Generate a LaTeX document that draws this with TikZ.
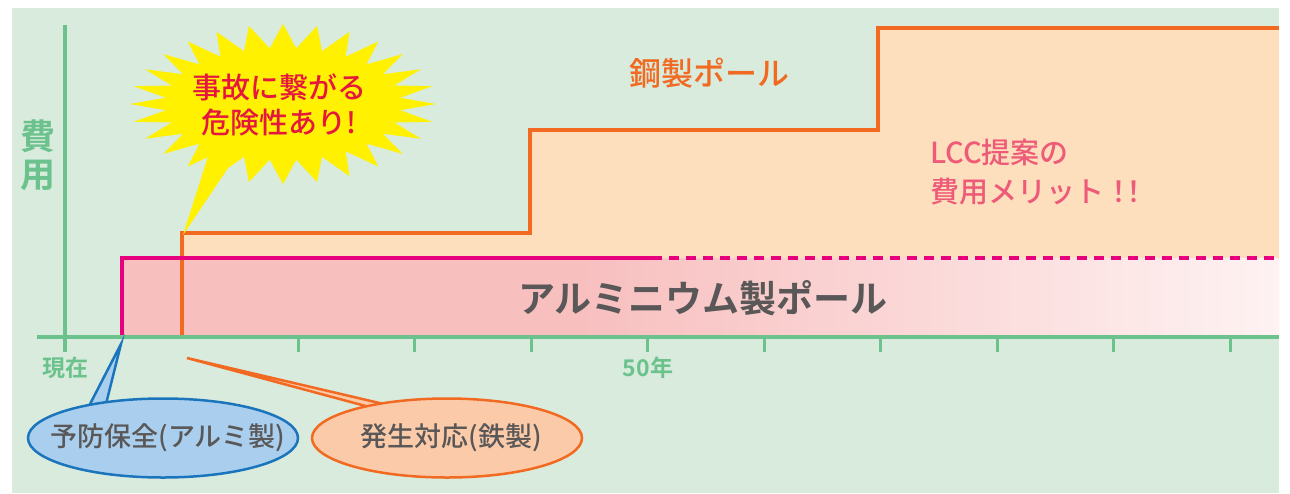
\documentclass[tikz,border=0pt]{standalone}
\usepackage{fontspec}
\setmainfont{Noto Sans CJK JP}[UprightFont=* Medium,BoldFont=* Bold]
\usetikzlibrary{shapes.geometric}
\definecolor{bggreen}{HTML}{D8EBDC}
\definecolor{axisgreen}{HTML}{6CC28D}
\definecolor{steelline}{HTML}{F26A21}
\definecolor{steelfill}{HTML}{FDDFBE}
\definecolor{aluline}{HTML}{E6007E}
\definecolor{alufill}{HTML}{F8BFBF}
\definecolor{alufade}{HTML}{FEF2F2}
\definecolor{graytext}{HTML}{595757}
\definecolor{lcctext}{HTML}{EE5B78}
\definecolor{burstyellow}{HTML}{FFF100}
\definecolor{bursttext}{HTML}{E5173F}
\definecolor{bluefill}{HTML}{AACFEE}
\definecolor{blueline}{HTML}{1B75BC}
\definecolor{orfill}{HTML}{FBCBA9}
\begin{document}
\begin{tikzpicture}[x=1pt,y=-1pt,
  axisline/.style={draw=axisgreen,line width=3.5pt},
  tickline/.style={draw=axisgreen,line width=3pt},
  steelstep/.style={draw=steelline,line width=4pt,line join=miter},
  alustep/.style={draw=aluline,line width=4pt,line join=miter},
  axislabel/.style={text=axisgreen,font=\bfseries\fontsize{23}{25}\selectfont,inner sep=0pt},
  calloutblue/.style={fill=bluefill,draw=blueline,line width=2.5pt,line join=miter},
  calloutor/.style={fill=orfill,draw=steelline,line width=2.5pt,line join=miter},
  callouttext/.style={text=graytext,font=\fontsize{27}{29}\selectfont,inner sep=0pt}
]
\useasboundingbox (0,0) rectangle (1290,493);
% background
\fill[bggreen] (12,8) rectangle (1279,493);
% steel pole area
\fill[steelfill] (182,337) -- (182,233) -- (530,233) -- (530,130) -- (878,130) -- (878,28) -- (1279,28) -- (1279,337) -- cycle;
% aluminium pole area
\fill[alufill] (122,258) rectangle (580,337);
\shade[left color=alufill,right color=alufade] (580,258) rectangle (1279,337);
% step lines
\draw[steelstep] (182,337) -- (182,233) -- (530,233) -- (530,130) -- (878,130) -- (878,28) -- (1279,28);
\draw[alustep] (122,337) -- (122,258) -- (652,258);
\draw[alustep,dash pattern=on 10pt off 7pt] (652,258) -- (1279,258);
% axes
\draw[axisline] (65,25) -- (65,352);
\draw[axisline] (37,337) -- (1279,337);
\foreach \k in {2,...,10} {
  \draw[tickline] ({65+116.5*\k},337) -- ({65+116.5*\k},352);
}
% axis labels
\node[text=axisgreen,font=\bfseries\fontsize{35}{38}\selectfont,align=center,inner sep=0pt] (ylab) at (38,155) {費\\用};
\node[axislabel] (now) at (65,368) {現在};
\node[axislabel] (fifty) at (648,368) {50年};
% texts
\node[text=steelline,font=\fontsize{32}{34}\selectfont,inner sep=0pt] (steellab) at (709,73) {鋼製ポール};
\node[text=lcctext,font=\fontsize{29}{39}\selectfont,align=left,anchor=north west,inner sep=0pt] (lcc) at (930,139) {LCC提案の\\費用メリット！\hspace{-14pt}！};
\node[text=graytext,font=\bfseries\fontsize{37}{40}\selectfont,inner sep=0pt] (alulab) at (703,298) {アルミニウム製ポール};
% burst
\fill[burstyellow] (210,150) -- (236,156) -- (183,235) -- cycle;
\fill[burstyellow] (436,104)
  \foreach \i in {1,...,55} {
    -- ({283+(153-35*mod(\i,2))*cos(6.428571*\i)},{104+(80-24*mod(\i,2))*sin(6.428571*\i)})
  } -- cycle;
\node[text=bursttext,font=\fontsize{29}{35}\selectfont,align=center,inner sep=0pt] (burst) at (279,105) {事故に繋がる\\危険性あり!};
% callouts
\coordinate (bluetip) at (121,344);
\coordinate (ortip) at (187,358);
\coordinate (prevc) at (163,438);
\coordinate (reactc) at (447,438);
\draw[calloutblue] (bluetip) -- (88,408) -- (106,404) -- cycle;
\draw[calloutor] (ortip) -- (373,408) -- (388,405) -- cycle;
\draw[calloutblue] (prevc) ellipse [x radius=135, y radius=39.5];
\draw[calloutor] (reactc) ellipse [x radius=135, y radius=39.5];
\node[callouttext] (prev) at (168,438) {予防保全(アルミ製)};
\node[callouttext] (react) at (451,438) {発生対応(鉄製)};
\end{tikzpicture}
\end{document}
